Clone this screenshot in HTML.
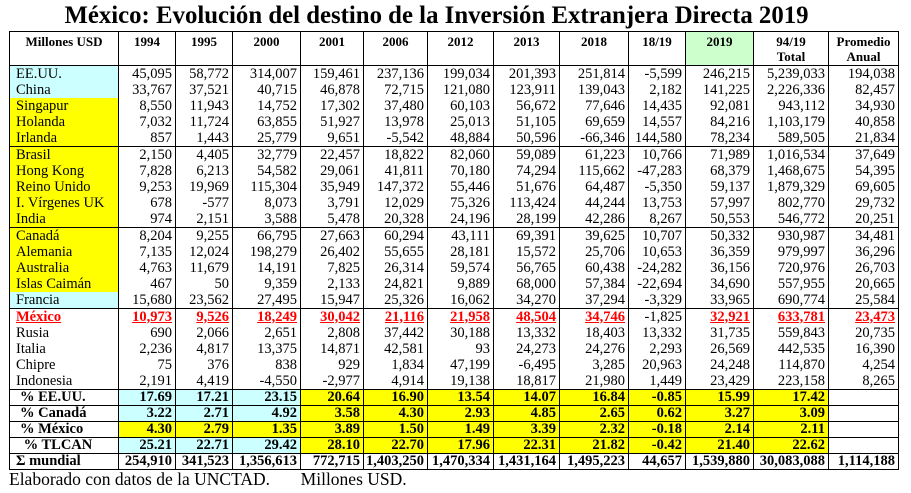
<!DOCTYPE html>
<html><head><meta charset="utf-8"><style>
body{margin:0;width:911px;height:493px;background:#fff;font-family:"Liberation Serif",serif;position:relative;overflow:hidden}
.t{position:absolute;left:-19px;top:3px;width:911px;text-align:center;font-weight:bold;font-size:24.8px;line-height:26px;white-space:nowrap}
table{position:absolute;left:9px;top:31px;border-collapse:collapse;table-layout:fixed;width:890px}
td{border-left:1.5px solid #000;border-right:1.5px solid #000;padding:0 3px 0 0;text-align:right;font-size:14.5px;line-height:15px;height:16px;white-space:nowrap;overflow:hidden}
td:first-child{text-align:left;padding:0 0 0 6px}
tr.h td{font-weight:bold;font-size:13px;text-align:center;vertical-align:top;height:31px;border-bottom:1.5px solid #000;border-top:1.5px solid #000;padding:2px 0 0 0}
tr.s td{border-top:1.5px solid #000}
tr.p td{border:1.5px solid #000;font-weight:bold;height:14.6px}
tr.p td:first-child{padding-left:10px}
.c{background:#ccffff}.y{background:#ffff00}.g{background:#ccffcc!important}
tr.m td{color:#f00;font-weight:bold;text-decoration:underline}
tr.m td.k{color:#000;font-weight:normal;text-decoration:none}
.f{position:absolute;left:9px;top:469px;font-size:17.5px}
</style></head><body>
<div class="t">México: Evolución del destino de la Inversión Extranjera Directa 2019</div>
<table>
<colgroup><col style="width:109px"><col style="width:57px"><col style="width:57px"><col style="width:68px"><col style="width:63px"><col style="width:64px"><col style="width:66px"><col style="width:66px"><col style="width:69px"><col style="width:57px"><col style="width:68px"><col style="width:75px"><col style="width:70px"></colgroup>
<tr class="h"><td style="text-align:center;padding:2px 0 0 0">Millones USD</td><td>1994</td><td>1995</td><td>2000</td><td>2001</td><td>2006</td><td>2012</td><td>2013</td><td>2018</td><td>18/19</td><td class="g">2019</td><td>94/19<br>Total</td><td>Promedio<br>Anual</td></tr>
<tr><td class="c">EE.UU.</td><td>45,095</td><td>58,772</td><td>314,007</td><td>159,461</td><td>237,136</td><td>199,034</td><td>201,393</td><td>251,814</td><td>-5,599</td><td>246,215</td><td>5,239,033</td><td>194,038</td></tr>
<tr><td class="c">China</td><td>33,767</td><td>37,521</td><td>40,715</td><td>46,878</td><td>72,715</td><td>121,080</td><td>123,911</td><td>139,043</td><td>2,182</td><td>141,225</td><td>2,226,336</td><td>82,457</td></tr>
<tr><td class="y">Singapur</td><td>8,550</td><td>11,943</td><td>14,752</td><td>17,302</td><td>37,480</td><td>60,103</td><td>56,672</td><td>77,646</td><td>14,435</td><td>92,081</td><td>943,112</td><td>34,930</td></tr>
<tr><td class="y">Holanda</td><td>7,032</td><td>11,724</td><td>63,855</td><td>51,927</td><td>13,978</td><td>25,013</td><td>51,105</td><td>69,659</td><td>14,557</td><td>84,216</td><td>1,103,179</td><td>40,858</td></tr>
<tr><td class="y">Irlanda</td><td>857</td><td>1,443</td><td>25,779</td><td>9,651</td><td>-5,542</td><td>48,884</td><td>50,596</td><td>-66,346</td><td>144,580</td><td>78,234</td><td>589,505</td><td>21,834</td></tr>
<tr class="s"><td class="y">Brasil</td><td>2,150</td><td>4,405</td><td>32,779</td><td>22,457</td><td>18,822</td><td>82,060</td><td>59,089</td><td>61,223</td><td>10,766</td><td>71,989</td><td>1,016,534</td><td>37,649</td></tr>
<tr><td class="y">Hong Kong</td><td>7,828</td><td>6,213</td><td>54,582</td><td>29,061</td><td>41,811</td><td>70,180</td><td>74,294</td><td>115,662</td><td>-47,283</td><td>68,379</td><td>1,468,675</td><td>54,395</td></tr>
<tr><td class="y">Reino Unido</td><td>9,253</td><td>19,969</td><td>115,304</td><td>35,949</td><td>147,372</td><td>55,446</td><td>51,676</td><td>64,487</td><td>-5,350</td><td>59,137</td><td>1,879,329</td><td>69,605</td></tr>
<tr><td class="y">I. Vírgenes UK</td><td>678</td><td>-577</td><td>8,073</td><td>3,791</td><td>12,029</td><td>75,326</td><td>113,424</td><td>44,244</td><td>13,753</td><td>57,997</td><td>802,770</td><td>29,732</td></tr>
<tr><td class="y">India</td><td>974</td><td>2,151</td><td>3,588</td><td>5,478</td><td>20,328</td><td>24,196</td><td>28,199</td><td>42,286</td><td>8,267</td><td>50,553</td><td>546,772</td><td>20,251</td></tr>
<tr class="s"><td class="y">Canadá</td><td>8,204</td><td>9,255</td><td>66,795</td><td>27,663</td><td>60,294</td><td>43,111</td><td>69,391</td><td>39,625</td><td>10,707</td><td>50,332</td><td>930,987</td><td>34,481</td></tr>
<tr><td class="y">Alemania</td><td>7,135</td><td>12,024</td><td>198,279</td><td>26,402</td><td>55,655</td><td>28,181</td><td>15,572</td><td>25,706</td><td>10,653</td><td>36,359</td><td>979,997</td><td>36,296</td></tr>
<tr><td class="y">Australia</td><td>4,763</td><td>11,679</td><td>14,191</td><td>7,825</td><td>26,314</td><td>59,574</td><td>56,765</td><td>60,438</td><td>-24,282</td><td>36,156</td><td>720,976</td><td>26,703</td></tr>
<tr><td class="y">Islas Caimán</td><td>467</td><td>50</td><td>9,359</td><td>2,133</td><td>24,821</td><td>9,889</td><td>68,000</td><td>57,384</td><td>-22,694</td><td>34,690</td><td>557,955</td><td>20,665</td></tr>
<tr><td class="c">Francia</td><td>15,680</td><td>23,562</td><td>27,495</td><td>15,947</td><td>25,326</td><td>16,062</td><td>34,270</td><td>37,294</td><td>-3,329</td><td>33,965</td><td>690,774</td><td>25,584</td></tr>
<tr class="s m"><td>México</td><td>10,973</td><td>9,526</td><td>18,249</td><td>30,042</td><td>21,116</td><td>21,958</td><td>48,504</td><td>34,746</td><td class="k">-1,825</td><td>32,921</td><td>633,781</td><td>23,473</td></tr>
<tr><td>Rusia</td><td>690</td><td>2,066</td><td>2,651</td><td>2,808</td><td>37,442</td><td>30,188</td><td>13,332</td><td>18,403</td><td>13,332</td><td>31,735</td><td>559,843</td><td>20,735</td></tr>
<tr><td>Italia</td><td>2,236</td><td>4,817</td><td>13,375</td><td>14,871</td><td>42,581</td><td>93</td><td>24,273</td><td>24,276</td><td>2,293</td><td>26,569</td><td>442,535</td><td>16,390</td></tr>
<tr><td>Chipre</td><td>75</td><td>376</td><td>838</td><td>929</td><td>1,834</td><td>47,199</td><td>-6,495</td><td>3,285</td><td>20,963</td><td>24,248</td><td>114,870</td><td>4,254</td></tr>
<tr><td>Indonesia</td><td>2,191</td><td>4,419</td><td>-4,550</td><td>-2,977</td><td>4,914</td><td>19,138</td><td>18,817</td><td>21,980</td><td>1,449</td><td>23,429</td><td>223,158</td><td>8,265</td></tr>
<tr class="p"><td>% EE.UU.</td><td class="c">17.69</td><td class="c">17.21</td><td class="c">23.15</td><td class="y">20.64</td><td class="y">16.90</td><td class="y">13.54</td><td class="y">14.07</td><td class="y">16.84</td><td class="y">-0.85</td><td class="y">15.99</td><td class="y">17.42</td><td></td></tr>
<tr class="p"><td>% Canadá</td><td class="c">3.22</td><td class="c">2.71</td><td class="c">4.92</td><td class="y">3.58</td><td class="y">4.30</td><td class="y">2.93</td><td class="y">4.85</td><td class="y">2.65</td><td class="y">0.62</td><td class="y">3.27</td><td class="y">3.09</td><td></td></tr>
<tr class="p"><td>% México</td><td class="y">4.30</td><td class="y">2.79</td><td class="y">1.35</td><td class="y">3.89</td><td class="y">1.50</td><td class="y">1.49</td><td class="y">3.39</td><td class="y">2.32</td><td class="y">-0.18</td><td class="y">2.14</td><td class="y">2.11</td><td></td></tr>
<tr class="p"><td>&nbsp;% TLCAN</td><td class="c">25.21</td><td class="c">22.71</td><td class="c">29.42</td><td class="y">28.10</td><td class="y">22.70</td><td class="y">17.96</td><td class="y">22.31</td><td class="y">21.82</td><td class="y">-0.42</td><td class="y">21.40</td><td class="y">22.62</td><td></td></tr>
<tr class="p"><td style="padding-left:6px">Σ mundial</td><td>254,910</td><td>341,523</td><td>1,356,613</td><td>772,715</td><td>1,403,250</td><td>1,470,334</td><td>1,431,164</td><td>1,495,223</td><td>44,657</td><td>1,539,880</td><td>30,083,088</td><td>1,114,188</td></tr>
</table>
<div class="f">Elaborado con datos de la UNCTAD.&nbsp;&nbsp;&nbsp;&nbsp;&nbsp;&nbsp; Millones USD.</div>
</body></html>
